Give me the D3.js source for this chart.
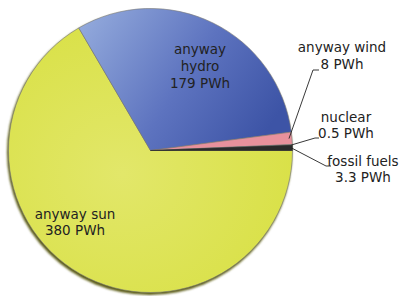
<!DOCTYPE html>
<html><head><meta charset="utf-8">
<script src="https://cdn.jsdelivr.net/npm/d3@7/dist/d3.min.js"></script>
<style>body{margin:0;background:#fff}svg{display:block}text{font-family:"DejaVu Sans",Verdana,sans-serif;font-size:13.5px;fill:#222}</style>
</head><body><svg id="c" width="401" height="296"></svg>
<script>
const categories = ["anyway sun", "anyway hydro", "anyway wind", "nuclear", "fossil fuels"];
const values = [380, 179, 8, 0.5, 3.3];
const valueLabels = ["380 PWh", "179 PWh", "8 PWh", "0.5 PWh", "3.3 PWh"];

const svg = d3.select("#c");
const cx = 150.5, cy = 150.5, r = 142;
const defs = svg.append("defs");
const gs = defs.append("radialGradient").attr("id","gSun").attr("cx","0.4").attr("cy","0.55").attr("r","0.7");
gs.append("stop").attr("offset","0").attr("stop-color","#e2e76a");
gs.append("stop").attr("offset","1").attr("stop-color","#d8e043");
const gh = defs.append("linearGradient").attr("id","gHydro").attr("gradientUnits","userSpaceOnUse")
  .attr("x1",-70).attr("y1",-130).attr("x2",110).attr("y2",-10);
gh.append("stop").attr("offset","0").attr("stop-color","#93aadc");
gh.append("stop").attr("offset","0.55").attr("stop-color","#5d73bf");
gh.append("stop").attr("offset","1").attr("stop-color","#3d54a6");
const f = defs.append("filter").attr("id","blur").attr("x","-10%").attr("y","-10%").attr("width","120%").attr("height","120%");
f.append("feGaussianBlur").attr("stdDeviation",1.2);

const fills = ["url(#gSun)","url(#gHydro)","#e8919c","#8a8a8a","#2a2a2a"];

const g = svg.append("g").attr("transform",`translate(${cx},${cy})`);
g.append("circle").attr("cx",-1).attr("cy",2).attr("r",r+0.5).attr("fill","#5c5c18").attr("filter","url(#blur)");

const pie = d3.pie().sort(null).value(d=>d).startAngle(Math.PI/2).endAngle(Math.PI/2+2*Math.PI);
const arcs = pie(values);
const arc = d3.arc().innerRadius(0).outerRadius(r);
g.selectAll("path.s").data(arcs).join("path").attr("class","s")
  .attr("d",arc).attr("fill",(d,i)=>fills[i]).attr("stroke",(d,i)=>i===4?"#2a2a2a":"#7a7a7a").attr("stroke-width",0.6);

function edgePt(a, rr){ return [cx + rr*Math.sin(a), cy - rr*Math.cos(a)]; }

const lab = [
  {x:75, lines:[[categories[0],219],[valueLabels[0],235]]},
  {x:200, lines:[["anyway",54],["hydro",71],[valueLabels[1],88]]},
  {x:342, lines:[[categories[2],52],[valueLabels[2],69]]},
  {x:346, lines:[[categories[3],122],[valueLabels[3],138]]},
  {x:363, lines:[[categories[4],166],[valueLabels[4],182]]}
];
lab.forEach(l=>{
  l.lines.forEach(([t,y])=>{
    svg.append("text").attr("x",l.x).attr("y",y).attr("text-anchor","middle").text(t);
  });
});

const leaders = [
  {i:2, rr:r-3, elbow:[313,70], end:[319,70]},
  {i:3, rr:r-1, elbow:[315,138], end:[319,138]},
  {i:4, rr:r-1, elbow:[326,166], end:[331,166]}
];
leaders.forEach(L=>{
  const a = (arcs[L.i].startAngle+arcs[L.i].endAngle)/2;
  const p = edgePt(a, L.rr);
  svg.append("path").attr("d",d3.line()([p, L.elbow, L.end])).attr("fill","none").attr("stroke","#222").attr("stroke-width",0.9);
});
</script></body></html>
